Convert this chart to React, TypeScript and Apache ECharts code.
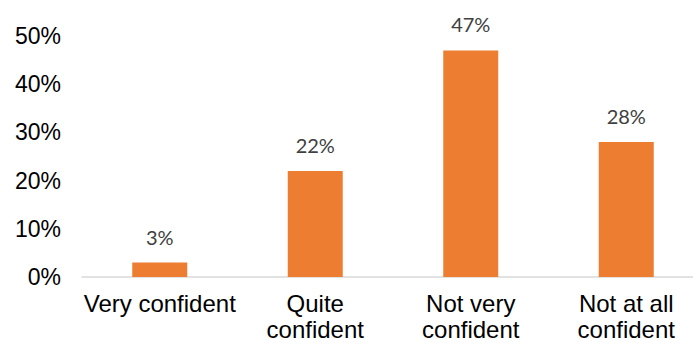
import React, { useEffect, useRef } from "react";
import * as echarts from "echarts";

const categories = ["Very confident", "Quite\nconfident", "Not very\nconfident", "Not at all\nconfident"];
const values = [3, 22, 47, 28];
const yTicks = { min: 0, max: 50, interval: 10 };

export default function App() {
  const ref = useRef<HTMLDivElement>(null);
  useEffect(() => {
    document.body.style.margin = "0";
    const chart = echarts.init(ref.current!, null, { renderer: "svg" });
    chart.setOption({
      animation: false,
      grid: { left: 82, width: 622, top: 36, height: 241, containLabel: false, outerBoundsMode: "none" },
      xAxis: {
        type: "category",
        data: categories,
        axisLine: { lineStyle: { color: "#d9d9d9", width: 1.5 } },
        axisTick: { show: false },
        axisLabel: {
          color: "#000",
          fontFamily: "Liberation Sans, Arial",
          fontSize: 24,
          lineHeight: 26,
          margin: 13,
          interval: 0,
        },
      },
      yAxis: {
        type: "value",
        min: yTicks.min,
        max: yTicks.max,
        interval: yTicks.interval,
        splitLine: { show: false },
        axisLine: { show: false },
        axisTick: { show: false },
        axisLabel: {
          formatter: "{value}%",
          color: "#000",
          fontFamily: "Liberation Sans, Arial",
          fontSize: 23,
          margin: 21,
        },
      },
      series: [
        {
          type: "bar",
          data: values,
          barWidth: 55,
          itemStyle: { color: "#ED7D31" },
          label: {
            show: true,
            position: "top",
            distance: 16,
            formatter: "{c}%",
            color: "#404040",
            fontFamily: "Lato, Open Sans",
            fontSize: 20,
          },
        },
      ],
    });
    return () => chart.dispose();
  }, []);
  return <div ref={ref} style={{ width: 693, height: 343 }} />;
}
